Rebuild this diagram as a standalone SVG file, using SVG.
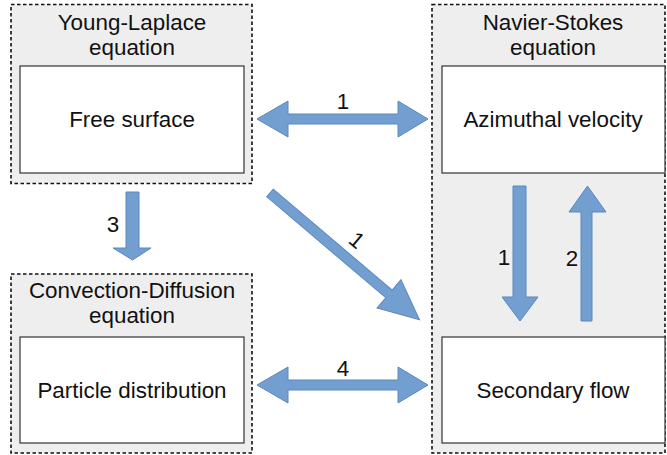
<svg xmlns="http://www.w3.org/2000/svg" width="667" height="455" viewBox="0 0 667 455">
<style>
.grp{fill:#eeeeee;stroke:#111;stroke-width:1.6;stroke-dasharray:3.5,2.5}
.box{fill:#fff;stroke:#333;stroke-width:1.2}
.t{font-family:"Liberation Sans",Arial,sans-serif;font-size:22.4px;fill:#111;text-anchor:middle}
.arr{fill:#729fcf;stroke:#5a88c2;stroke-width:1}
</style>
<g id="young-laplace">
<rect class="grp" x="11" y="4.5" width="241" height="179"/>
<text class="t" x="132" y="30">Young-Laplace</text>
<text class="t" x="132" y="55">equation</text>
</g>
<g id="free-surface">
<rect class="box" x="20" y="66" width="224" height="107"/>
<text class="t" x="132" y="127">Free surface</text>
</g>
<g id="navier-stokes">
<rect class="grp" x="432" y="4.5" width="233" height="448.5"/>
<text class="t" x="553" y="30">Navier-Stokes</text>
<text class="t" x="553" y="55">equation</text>
</g>
<g id="azimuthal-velocity">
<rect class="box" x="442" y="66" width="223" height="107"/>
<text class="t" x="553" y="127">Azimuthal velocity</text>
</g>
<g id="secondary-flow">
<rect class="box" x="442" y="337" width="223" height="106"/>
<text class="t" x="553" y="398">Secondary flow</text>
</g>
<g id="convection-diffusion">
<rect class="grp" x="11" y="274" width="241" height="179"/>
<text class="t" x="132" y="298">Convection-Diffusion</text>
<text class="t" x="132" y="323">equation</text>
</g>
<g id="particle-distribution">
<rect class="box" x="20" y="337" width="224" height="106"/>
<text class="t" x="132" y="398">Particle distribution</text>
</g>
<g id="connectors">
<polygon class="arr" points="257,119 288,101 288,114 398,114 398,101 428,119 398,137 398,124 288,124 288,137"/>
<text class="t" x="343" y="109">1</text>
<polygon class="arr" points="257,385 288,367 288,380 398,380 398,367 428,385 398,403 398,390 288,390 288,403"/>
<text class="t" x="343" y="376">4</text>
<polygon class="arr" points="126,192 139,192 139,248 151,248 132.5,260 113,248 126,248"/>
<text class="t" x="113" y="232">3</text>
<polygon class="arr" transform="translate(270,193) rotate(40.3)" points="0,-5 156,-5 156,-18.5 196,0 156,18.5 156,5 0,5"/>
<text class="t" transform="translate(352,246) rotate(40)" x="0" y="0">1</text>
<polygon class="arr" points="513,186 526,186 526,297 538,297 520,321 502,297 513,297"/>
<text class="t" x="504" y="265">1</text>
<polygon class="arr" points="581,321 592,321 592,212 606,212 587.5,186 569,212 581,212"/>
<text class="t" x="572" y="266">2</text>
</g>
</svg>
